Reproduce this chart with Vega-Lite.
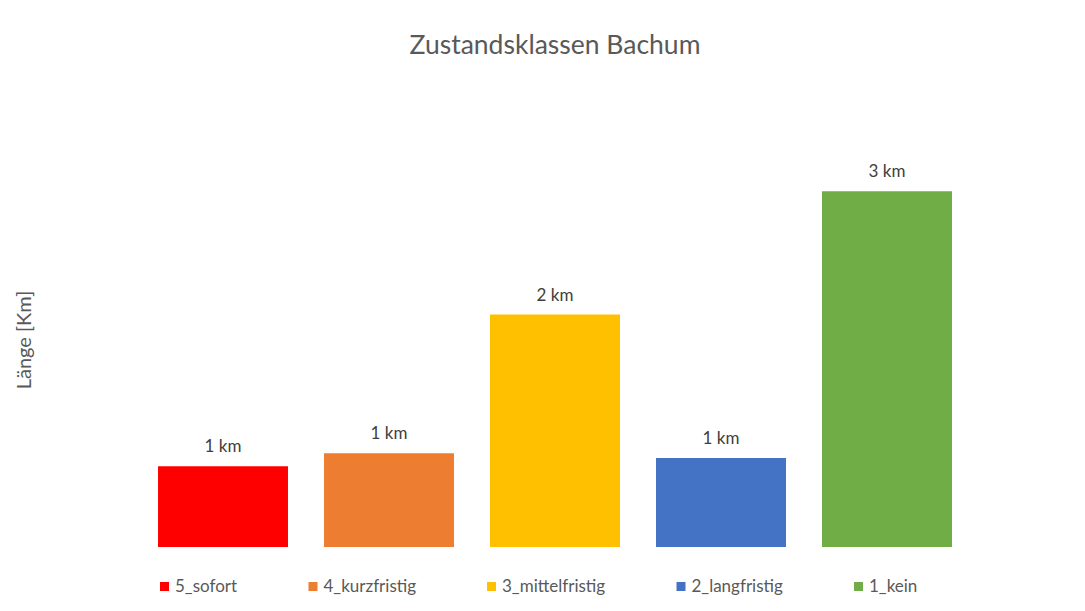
{
  "$schema": "https://vega.github.io/schema/vega-lite/v6.json",
  "autosize": "none",
  "width": 830,
  "height": 415,
  "padding": {"left": 140, "top": 132, "right": 115, "bottom": 64},
  "background": "white",
  "title": {
    "text": "Zustandsklassen Bachum",
    "font": "Lato",
    "fontSize": 26.5,
    "fontWeight": "normal",
    "color": "#595959",
    "anchor": "middle",
    "frame": "group",
    "offset": 73
  },
  "data": {
    "values": [
      {"klasse": "5_sofort", "laenge": 0.68, "label": "1 km"},
      {"klasse": "4_kurzfristig", "laenge": 0.79, "label": "1 km"},
      {"klasse": "3_mittelfristig", "laenge": 1.96, "label": "2 km"},
      {"klasse": "2_langfristig", "laenge": 0.75, "label": "1 km"},
      {"klasse": "1_kein", "laenge": 3.0, "label": "3 km"}
    ]
  },
  "encoding": {
    "x": {
      "field": "klasse",
      "type": "nominal",
      "sort": null,
      "axis": null,
      "scale": {"paddingInner": 0.217, "paddingOuter": 0.1085}
    },
    "y": {
      "field": "laenge",
      "type": "quantitative",
      "scale": {"domain": [0, 3.5], "nice": false},
      "axis": {
        "title": "Länge [Km]",
        "titleFont": "Lato",
        "titleFontSize": 20,
        "titleFontWeight": "normal",
        "titleColor": "#595959",
        "titlePadding": 106,
        "labels": false,
        "ticks": false,
        "domain": false,
        "grid": false
      }
    }
  },
  "layer": [
    {
      "mark": {"type": "bar"},
      "encoding": {
        "color": {
          "field": "klasse",
          "type": "nominal",
          "sort": null,
          "scale": {
            "domain": ["5_sofort", "4_kurzfristig", "3_mittelfristig", "2_langfristig", "1_kein"],
            "range": ["#FF0000", "#ED7D31", "#FFC000", "#4472C4", "#70AD47"]
          },
          "legend": {
            "title": null,
            "orient": "none",
            "direction": "horizontal",
            "legendX": 16,
            "legendY": 446,
            "symbolType": "square",
            "symbolSize": 81,
            "symbolStrokeWidth": 0,
            "labelFont": "Lato",
            "labelFontSize": 17,
            "labelColor": "#595959",
            "labelOffset": 2,
            "columnPadding": 66.5,
            "gridAlign": "none"
          }
        }
      }
    },
    {
      "mark": {
        "type": "text",
        "baseline": "alphabetic",
        "dy": -14,
        "font": "Lato",
        "fontSize": 17,
        "color": "#404040"
      },
      "encoding": {"text": {"field": "label", "type": "nominal"}}
    }
  ],
  "config": {"view": {"stroke": null}}
}
